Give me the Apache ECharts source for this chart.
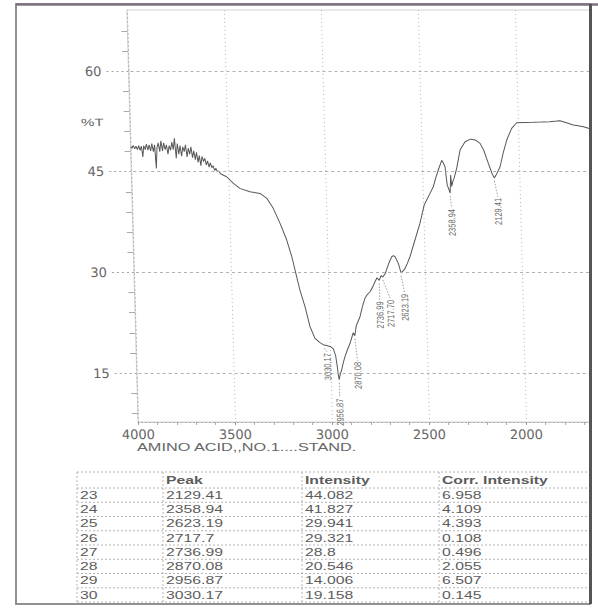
<!DOCTYPE html>
<html><head><meta charset="utf-8">
<script src="https://cdn.jsdelivr.net/npm/echarts@6/dist/echarts.min.js"></script>
<style>
html,body{margin:0;padding:0;background:#fff;}
#page{position:relative;width:598px;height:608px;overflow:hidden;background:#fff;}
#clip{position:absolute;left:0;top:0;width:589px;height:470px;overflow:hidden;}
#plot{position:absolute;left:0;top:0;width:640px;height:470px;transform:skewX(1.55deg);transform-origin:0 422px;}
#overlay{position:absolute;left:0;top:0;width:598px;height:608px;}
</style></head><body>
<div id="page"><div id="clip"><div id="plot"></div></div><div id="overlay"></div></div>
<script>
// ---- data ----
const SPECTRUM = [
 [4000,48.7],[3993,48.5],[3986,48.9],[3979,48.4],[3972,48.8],[3965,48.3],[3958,48.9],[3951,48.2],
 [3944,48.8],[3938,47.2],[3932,48.9],[3925,48.3],[3918,49.1],[3911,48.2],[3904,49.0],[3897,48.1],
 [3890,49.2],[3883,48.0],[3876,49.0],[3870,45.5],[3864,48.6],[3857,49.3],[3850,48.0],[3843,49.6],
 [3836,48.1],[3829,49.3],[3822,48.3],[3815,49.0],[3808,47.6],[3801,48.9],[3794,48.2],[3787,49.4],
 [3780,48.3],[3773,50.0],[3766,47.0],[3759,49.2],[3752,47.6],[3745,48.9],[3738,47.3],[3731,48.7],
 [3724,48.0],[3717,49.0],[3710,47.2],[3703,48.5],[3696,47.6],[3689,48.7],[3682,47.1],[3675,48.1],
 [3668,46.8],[3661,47.9],[3654,46.4],[3647,47.4],[3640,45.9],[3633,47.3],[3626,46.5],[3619,47.0],
 [3612,46.0],[3605,46.6],[3598,45.7],[3591,46.3],[3584,45.6],[3577,45.9],[3570,45.2],[3563,45.5],
 [3556,45.0],[3549,45.1],[3540,44.7],
 [3509,44.25],[3475,43.27],[3442,42.52],[3391,42.02],[3339,41.77],[3305,41.03],[3273,39.54],
 [3240,37.3],[3208,34.82],[3184,32.33],[3162,29.35],[3147,27.37],[3123,24.88],[3100,21.9],
 [3076,20.17],[3051,19.52],[3030.17,19.16],[3017,19.1],[2995,18.9],[2983,18.6],[2972,17.6],
 [2966,16.2],[2961,14.8],[2956.87,14.01],[2950,14.9],[2943,15.45],[2933,16.6],[2924,17.44],
 [2910,18.5],[2896,19.43],[2885,20.4],[2878,21.0],[2870.08,20.55],[2862,22.0],[2841,23.39],
 [2826,25.0],[2813,26.13],[2800,26.7],[2786,27.11],[2772,27.8],[2759,28.6],[2748,29.2],
 [2736.99,28.8],[2727,29.5],[2717.7,29.32],[2705,29.8],[2695,30.6],[2683,31.5],[2669,32.33],
 [2660,32.5],[2652,32.33],[2636,31.34],[2623.19,29.94],[2610,30.3],[2602,30.6],[2590,31.3],
 [2575,32.33],[2547,34.82],[2519,37.3],[2495,40.0],[2463,41.77],[2445,42.76],[2430,44.2],
 [2417,45.25],[2398,46.7],[2390,46.3],[2382,45.74],[2373,43.0],[2363,42.2],[2358.94,41.83],
 [2354,44.5],[2350,42.8],[2343,43.6],[2337,44.0],[2322,45.5],[2302,48.23],[2275,49.47],
 [2250,49.82],[2241,49.85],[2220,49.7],[2198,49.22],[2180,48.2],[2158,46.25],[2140,44.7],
 [2129.41,44.08],[2118,44.6],[2098,45.74],[2080,47.8],[2060,49.72],[2033,51.46],[2006,52.3],
 [1960,52.35],[1921,52.36],[1880,52.4],[1835,52.45],[1800,52.55],[1783,52.6],[1750,52.3],
 [1715,51.95],[1690,51.85],[1663,51.7],[1640,51.5],[1621,51.2],[1600,50.9]
];
const ROW_NO    = [23, 24, 25, 26, 27, 28, 29, 30];
const PEAK      = [2129.41, 2358.94, 2623.19, 2717.7, 2736.99, 2870.08, 2956.87, 3030.17];
const INTENSITY = [44.082, 41.827, 29.941, 29.321, 28.8, 20.546, 14.006, 19.158];
const CORR      = [6.958, 4.109, 4.393, 0.108, 0.496, 2.055, 6.507, 0.145];
const HEADERS   = ['', 'Peak', 'Intensity', 'Corr. Intensity'];
const X_LABELS  = [4000, 3500, 3000, 2500, 2000];
const Y_LABELS  = [15, 30, 45, 60];
const Y_MINOR   = [9, 12, 18, 21, 24, 27, 33, 36, 39, 42, 48, 51, 54, 57, 63, 66];
const Y_NAME    = '%T';
const X_NAME    = 'AMINO ACID,,NO.1....STAND.';

// ---- peak-label layout (style only: leader length and sideways nudge, px) ----
const LABEL_GAP = [19, 15, 20, 22, 20, 25, 18, 7];
const LABEL_DX  = [3, 1, 3, 7, 0, 2, 0, 3];

// ---- plot ----
const plot = echarts.init(document.getElementById('plot'), null, {renderer: 'svg'});
plot.setOption({
  animation: false,
  grid: {left: 138, top: 10, width: 485, height: 412, show: true, borderColor: '#d4d4d4', borderWidth: 1},
  xAxis: {
    type: 'value', inverse: true, min: 1500, max: 4000, interval: 500,
    axisLine: {show: true, lineStyle: {color: '#b6a6b6', type: [2, 2], width: 1}},
    axisTick: {show: true, length: 3, lineStyle: {color: '#999'}},
    minorTick: {show: true, splitNumber: 5, length: 3, lineStyle: {color: '#aaa'}},
    axisLabel: {
      color: '#666', fontSize: 13, fontFamily: 'DejaVu Sans', margin: 6,
      formatter: v => (X_LABELS.indexOf(v) >= 0 ? String(v) : '')
    },
    splitLine: {show: true, lineStyle: {color: '#b8b8b8', type: [1, 3], width: 1}},
    minorSplitLine: {show: false}
  },
  yAxis: [{
    type: 'value', min: 7.7, max: 69.1, position: 'left',
    axisLine: {show: true, lineStyle: {color: '#b8b8b8', type: [1, 3], width: 1}},
    axisTick: {show: true, customValues: Y_LABELS, length: 22, lineStyle: {color: '#a4a4a4', type: [2, 3]}},
    axisLabel: {customValues: Y_LABELS, color: '#666', fontSize: 13, fontFamily: 'DejaVu Sans', margin: 27},
    splitLine: {show: false}
  }, {
    type: 'value', min: 7.7, max: 69.1, position: 'left',
    axisLine: {show: false},
    axisTick: {show: true, customValues: Y_MINOR, length: 6, lineStyle: {color: '#aaa'}},
    axisLabel: {show: false},
    splitLine: {show: false}
  }],
  graphic: [{
    type: 'text', x: 89, y: 122, scaleX: 1.45,
    style: {text: Y_NAME, fill: '#666', fontSize: 10.5, fontFamily: 'Liberation Sans', align: 'left', verticalAlign: 'middle'}
  }],
  series: [{
    type: 'line', data: SPECTRUM, symbol: 'none', silent: true,
    lineStyle: {color: '#575757', width: 1},
    markLine: {
      silent: true, symbol: ['none', 'none'], label: {show: false},
      lineStyle: {color: '#b0b0b0', type: [3, 3], width: 1},
      data: Y_LABELS.map(v => ({yAxis: v}))
    }
  }, {
    type: 'custom', silent: true, z: 3,
    data: PEAK.map((p, i) => [p, INTENSITY[i]]),
    renderItem: function (params, api) {
      const i = params.dataIndex;
      const p = api.coord([api.value(0), api.value(1)]);
      const gap = LABEL_GAP[i], dx = LABEL_DX[i];
      const label = PEAK[i].toFixed(2);
      return {type: 'group', children: [
        {type: 'line', shape: {x1: p[0], y1: p[1] + 3, x2: p[0] + dx, y2: p[1] + gap},
         style: {stroke: '#8a8a8a', lineWidth: 0.8, lineDash: [1.5, 1.5]}},
        {type: 'text', x: p[0] + dx, y: p[1] + gap + 1, rotation: Math.PI / 2, scaleY: 1.3,
         style: {text: label, fill: '#666', fontSize: 7.5, fontFamily: 'Liberation Sans', align: 'right', verticalAlign: 'middle'}}
      ]};
    }
  }]
});

// ---- frame, axis title and peak table ----
const COL_X = [77, 163, 302, 439];
const TABLE_RIGHT = 588, TABLE_TOP = 472, HEAD_BOTTOM = 488, ROW_H = 14.25;
const TXT = {fill: '#5c5c5c', fontSize: 11.5, fontFamily: 'Liberation Sans', align: 'left', verticalAlign: 'middle'};
const els = [];
els.push({type: 'rect', shape: {x: 16, y: 4, width: 574, height: 600}, style: {fill: 'none', stroke: '#909090', lineWidth: 2}});
els.push({type: 'line', shape: {x1: 16, y1: 4.5, x2: 598, y2: 4.5}, style: {stroke: '#7f717f', lineWidth: 2.5}});
els.push({type: 'line', shape: {x1: 590.5, y1: 4, x2: 590.5, y2: 604}, style: {stroke: '#555', lineWidth: 3}});
els.push({type: 'text', x: 137, y: 448, scaleX: 1.55,
  style: Object.assign({}, TXT, {text: X_NAME, fontSize: 10.5, fill: '#666'})});
const tableBottom = HEAD_BOTTOM + ROW_H * ROW_NO.length;
[TABLE_TOP, HEAD_BOTTOM].concat(ROW_NO.map((_, i) => HEAD_BOTTOM + ROW_H * (i + 1))).forEach(y => {
  els.push({type: 'line', shape: {x1: COL_X[0], y1: y, x2: TABLE_RIGHT, y2: y},
    style: {stroke: '#b4b4b4', lineWidth: 1, lineDash: [2, 2]}});
});
COL_X.forEach(x => {
  els.push({type: 'line', shape: {x1: x, y1: TABLE_TOP, x2: x, y2: tableBottom},
    style: {stroke: '#b4b4b4', lineWidth: 1, lineDash: [2, 2]}});
});
HEADERS.forEach((h, c) => {
  if (!h) return;
  els.push({type: 'text', x: COL_X[c] + 3, y: (TABLE_TOP + HEAD_BOTTOM) / 2, scaleX: 1.37,
    style: Object.assign({}, TXT, {text: h, fontWeight: 'bold'})});
});
ROW_NO.forEach((n, i) => {
  const y = HEAD_BOTTOM + ROW_H * (i + 0.5);
  [String(n), String(PEAK[i]), String(INTENSITY[i]), String(CORR[i])].forEach((t, c) => {
    els.push({type: 'text', x: COL_X[c] + 3, y: y, scaleX: 1.37, style: Object.assign({}, TXT, {text: t})});
  });
});
const ov = echarts.init(document.getElementById('overlay'), null, {renderer: 'svg'});
ov.setOption({animation: false, graphic: els});
</script>
</body></html>
